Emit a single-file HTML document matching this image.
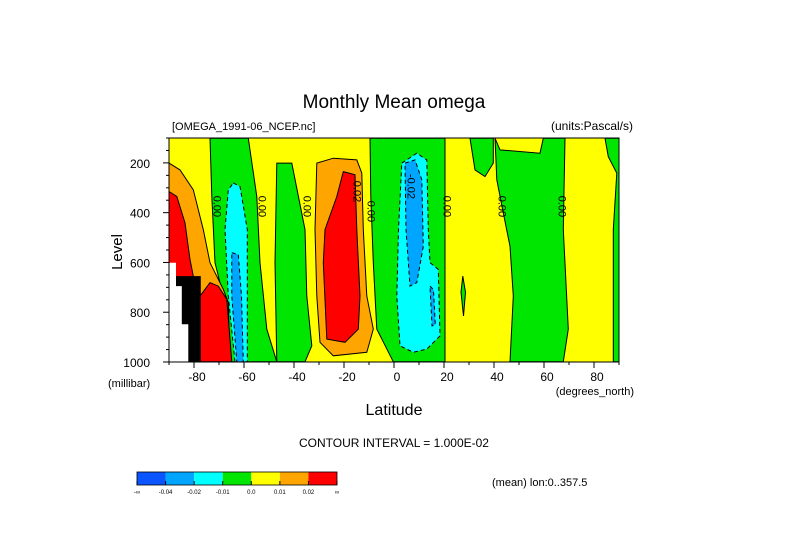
<!DOCTYPE html>
<html><head><meta charset="utf-8"><style>
body{margin:0;background:#fff;}
svg{display:block;font-family:"Liberation Sans",sans-serif;}
</style></head><body>
<svg id="chart" width="789" height="558" xmlns="http://www.w3.org/2000/svg">
<text x="394" y="108" font-size="19" text-anchor="middle" fill="#000">Monthly Mean omega</text>
<text x="172" y="130" font-size="11">[OMEGA_1991-06_NCEP.nc]</text>
<text x="633" y="130" font-size="12" text-anchor="end">(units:Pascal/s)</text>
<g id="plot"></g>
<g id="axes"></g>
<text transform="translate(122,252) rotate(-90)" font-size="15" text-anchor="middle">Level</text>
<text x="108" y="387" font-size="11">(millibar)</text>
<text x="634" y="395" font-size="11" text-anchor="end">(degrees_north)</text>
<text x="394" y="415" font-size="16" text-anchor="middle">Latitude</text>
<text x="394" y="447" font-size="12" text-anchor="middle">CONTOUR INTERVAL = 1.000E-02</text>
<g id="cbar"></g>
<text x="492" y="486" font-size="11">(mean) lon:0..357.5</text>
</svg>
<script>
const latTicks=[-80,-60,-40,-20,0,20,40,60,80];
const levTicks=[200,400,600,800,1000];
const cbarLabels=['-∞','-0.04','-0.02','-0.01','0.0','0.01','0.02','∞'];
const cbarColors=['#0a55ff','#00a5ff','#00ffff','#00e600','#ffff00','#ffa500','#ff0000'];
// contour regions: [color, dashed, points [lat, level]]
const regGreen1=[[-73.6,101],[-58.3,101],[-54.9,335],[-53.6,601],[-50.9,868],[-46.9,999],[-66.9,999],[-68.3,735],[-71.6,601],[-72.9,335]];
const regGreen2=[[-46.9,201],[-40.9,201],[-35.6,468],[-34.9,735],[-32.9,935],[-35.6,999],[-46.9,999],[-47.6,601]];
const regGreen3=[[-9.6,101],[20.4,101],[20.4,999],[-0.3,999],[-6.9,868],[-8.3,601],[-9.3,335]];
const regGreen4=[[40.4,101],[42.4,148],[58.4,161],[59.7,101],[68.4,101],[67.7,468],[69.7,868],[67.7,999],[46.4,999],[47.7,735],[46.4,535],[43.7,401],[41.1,268]];
const regGreen5=[[30.4,101],[39.7,101],[39.7,201],[36.4,255],[32.4,228]];
const regGreen6=[[84.4,101],[90,101],[90,999],[87.7,999],[87.7,468],[89.1,241],[85.7,175]];
const regGreen7=[[27.5,655],[28.6,720],[27.8,815],[26.8,720]];
const regCyan1=[[-64.3,281],[-61.6,295],[-58.7,468],[-58.7,999],[-63.6,999],[-66.3,735],[-67.6,468],[-66.3,308]];
const regBlue1=[[-64.9,561],[-62.3,568],[-61,735],[-60.3,999],[-62.9,999],[-64.9,735]];
const regOrangeL=[[-90,201],[-85.6,228],[-80.3,308],[-76.3,468],[-73.6,601],[-68.3,708],[-66.3,761],[-65.6,999],[-90,999]];
const regRedL=[[-90,315],[-86.9,335],[-83.6,441],[-81.6,588],[-80.3,655],[-77.6,735],[-73.6,681],[-70.3,695],[-66.9,748],[-64.9,999],[-90,999]];
const regOrangeM=[[-30.9,201],[-24.3,181],[-14.9,188],[-12.9,241],[-12.3,468],[-10.9,735],[-8.3,868],[-10.9,961],[-24.3,975],[-29.6,921],[-30.9,735],[-31.6,468]];
const regRedM=[[-20.3,235],[-15.6,248],[-14.9,468],[-13.6,735],[-14.3,868],[-19.6,921],[-26.9,908],[-28.3,601],[-27.6,468],[-22.9,335]];
const regCyan2=[[3.1,201],[9.1,161],[13.1,188],[13.7,468],[14.4,601],[17.7,628],[18.4,895],[13.1,948],[7.7,961],[2.4,935],[1.1,735],[1.8,468]];
const regBlue2=[[4.4,201],[8.4,188],[11.1,268],[11.7,535],[9.1,681],[6.4,695],[4.8,468]];
const regBlue3=[[14.4,695],[15.8,710],[16.5,850],[15.2,855]];
const regBlack=[[-87.2,655],[-77.3,655],[-77.3,1000],[-87.2,1000]];
const regWhite=[[-90,601],[-87.2,601],[-87.2,695],[-84.9,695],[-84.9,848],[-82.3,848],[-82.3,1000],[-90,1000]];
const regions=[
 ['#00e600',false,regGreen1],['#00e600',false,regGreen2],['#00e600',false,regGreen3],['#00e600',false,regGreen4],
 ['#00e600',false,regGreen5],['#00e600',false,regGreen6],['#00e600',false,regGreen7],
 ['#00ffff',true,regCyan1],['#00a5ff',true,regBlue1],
 ['#ffa500',false,regOrangeL],['#ff0000',false,regRedL],
 ['#ffa500',false,regOrangeM],['#ff0000',false,regRedM],
 ['#00ffff',true,regCyan2],['#00a5ff',true,regBlue2],['#00a5ff',true,regBlue3],
 ['#000000',false,regBlack],['#ffffff',false,regWhite]
];
const labelText=['0.00','0.00','0.00','0.02','0.00','-0.02','0.00','0.00','0.00'];
const labelLat=[-71,-53,-35,-15,-9.5,6.5,21,43,67];
const labelLev=[375,375,375,315,395,295,375,375,375];

const X0=169,X1=619,Y0=138,Y1=362;
const xs=lat=>X0+(lat+90)/180*(X1-X0);
const ys=lev=>Y0+(lev-100)/900*(Y1-Y0);
const NS='http://www.w3.org/2000/svg';
function mk(tag,attrs,parent){const e=document.createElementNS(NS,tag);for(const k in attrs)e.setAttribute(k,attrs[k]);parent.appendChild(e);return e;}
const plot=document.getElementById('plot');
const bg=mk('rect',{x:X0,y:Y0,width:X1-X0,height:Y1-Y0,fill:'#ffff00'},plot);


regions.forEach((r,i)=>{
 const p=mk('polygon',{points:r[2].map(q=>xs(q[0]).toFixed(1)+','+ys(q[1]).toFixed(1)).join(' '),fill:r[0],stroke:(r[0]==='#000000'||r[0]==='#ffffff')?'none':'#000','stroke-width':1},plot);
 if(r[1])p.setAttribute('stroke-dasharray','4,3');
 
 
});
labelText.forEach((t,i)=>{
 const x=xs(labelLat[i]),y=ys(labelLev[i]);
 const e=mk('text',{x:0,y:0,transform:`translate(${x.toFixed(1)},${y.toFixed(1)}) rotate(90)`,'font-size':11,'text-anchor':'middle','dominant-baseline':'middle'},plot);
 e.textContent=t;
 
 
});
const axes=document.getElementById('axes');
const frame=mk('rect',{x:X0,y:Y0,width:X1-X0,height:Y1-Y0,fill:'none',stroke:'#000','stroke-width':1},axes);


for(let lat=-90;lat<=90;lat+=10){const x=xs(lat);const l=mk('line',{x1:x,y1:Y1,x2:x,y2:Y1+(lat%20===0?6:3),stroke:'#000'},axes);}
for(let lev=100;lev<=1000;lev+=50){const y=ys(lev);const l=mk('line',{x1:X0-(lev%200===0?6:3),y1:y,x2:X0,y2:y,stroke:'#000'},axes);}
latTicks.forEach(v=>{const t=mk('text',{x:xs(v)+3,y:Y1+19,'font-size':12,'text-anchor':'middle'},axes);t.textContent=v;});
levTicks.forEach(v=>{const t=mk('text',{x:X0-19,y:ys(v)+5,'font-size':12,'text-anchor':'end'},axes);t.textContent=v;});
const cb=document.getElementById('cbar');
const cbx=137,cbw=200,cby=472,cbh=13,sw=cbw/cbarColors.length;
cbarColors.forEach((c,i)=>{const r=mk('rect',{x:cbx+i*sw,y:cby,width:sw,height:cbh,fill:c},cb);});
mk('rect',{x:cbx,y:cby,width:cbw,height:cbh,fill:'none',stroke:'#000','stroke-width':0.8},cb);
cbarLabels.forEach((t,i)=>{const x=cbx+i*sw;mk('line',{x1:x,y1:cby+cbh-4,x2:x,y2:cby+cbh,stroke:'#000'},cb);const e=mk('text',{x:x,y:cby+cbh+9,'font-size':6,'text-anchor':'middle'},cb);e.textContent=t;});
</script>
</body></html>
